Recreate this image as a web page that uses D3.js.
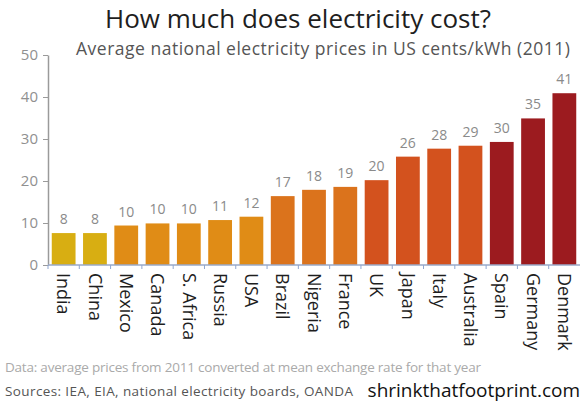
<!DOCTYPE html>
<html>
<head>
<meta charset="utf-8">
<script src="https://cdn.jsdelivr.net/npm/d3@7"></script>
<style>
  body { margin: 0; background: #fff; }
  svg { display: block; font-family: "Open Sans", "DejaVu Sans", sans-serif; }
</style>
</head>
<body>
<svg id="drawing_region"></svg>
<script>
// data
const countries = ['India', 'China', 'Mexico', 'Canada', 'S. Africa', 'Russia', 'USA', 'Brazil',
    'Nigeria', 'France', 'UK', 'Japan', 'Italy', 'Australia', 'Spain', 'Germany', 'Denmark'];
const prices = [7.6, 7.6, 9.4, 9.9, 9.9, 10.7, 11.5, 16.4, 17.9, 18.6, 20.2, 25.8, 27.7, 28.4, 29.3, 34.9, 40.9];
const labels = ['8', '8', '10', '10', '10', '11', '12', '17', '18', '19', '20', '26', '28', '29', '30', '35', '41'];
const groups = [0, 0, 1, 1, 1, 1, 1, 2, 2, 2, 3, 3, 3, 3, 4, 4, 4];
const yticks = [0, 10, 20, 30, 40, 50];

const palette = ['#d8ae12', '#e08c16', '#db731c', '#d3521e', '#9c1b1f'];

const width = 583, height = 404;
const margin = {top: 55, right: 3, bottom: 139, left: 48};

const svg = d3.select('#drawing_region')
    .attr('width', width)
    .attr('height', height);

const data = countries.map((c, i) => ({label: c, value: prices[i], text: labels[i], group: groups[i]}));

const xscale = d3.scaleBand()
    .domain(countries)
    .range([margin.left, width - margin.right])
    .paddingInner(0.24)
    .paddingOuter(0.12);

const yscale = d3.scaleLinear()
    .domain([0, 50])
    .range([height - margin.bottom, margin.top]);

// titles
svg.append('text')
    .attr('x', 298).attr('y', 28)
    .attr('text-anchor', 'middle')
    .attr('font-size', 26)
    .attr('fill', '#1e1e1e')
    .text('How much does electricity cost?');

svg.append('text')
    .attr('x', 323).attr('y', 55)
    .attr('text-anchor', 'middle')
    .attr('font-size', 17.5)
    .attr('textLength', 494)
    .attr('fill', '#555')
    .text('Average national electricity prices in US cents/kWh (2011)');

// bars
svg.append('g').selectAll('rect').data(data)
    .join('rect')
    .attr('x', d => xscale(d.label))
    .attr('y', d => yscale(d.value))
    .attr('width', xscale.bandwidth())
    .attr('height', d => yscale(0) - yscale(d.value))
    .attr('fill', d => palette[d.group]);

// value labels
svg.append('g').selectAll('text').data(data)
    .join('text')
    .attr('x', d => xscale(d.label) + xscale.bandwidth() / 2)
    .attr('y', d => yscale(d.value) - 9)
    .attr('text-anchor', 'middle')
    .attr('font-size', 14)
    .attr('fill', '#8a8a8a')
    .text(d => d.text);

// y axis
const yaxis = d3.axisLeft(yscale).tickValues(yticks).tickSize(5).tickSizeOuter(0);
const ygroup = svg.append('g')
    .attr('transform', `translate(${margin.left}, 0)`)
    .call(yaxis);
ygroup.select('.domain').attr('stroke', '#9a9a9a').attr('stroke-width', 1.5);
ygroup.selectAll('.tick line').attr('stroke', '#9a9a9a');
ygroup.selectAll('.tick text')
    .attr('font-size', 15)
    .attr('font-family', '"Open Sans", sans-serif')
    .attr('fill', '#909090')
    .attr('x', -10);

// x axis: ticks between the bars
const xaxis_group = svg.append('g')
    .attr('transform', `translate(0, ${yscale(0)})`);
xaxis_group.append('line')
    .attr('x1', margin.left).attr('x2', width - margin.right)
    .attr('stroke', '#9aaac8').attr('stroke-width', 1.5);
const step = xscale.step();
xaxis_group.selectAll('line.sep').data(countries)
    .join('line')
    .attr('class', 'sep')
    .attr('x1', d => xscale(d) - (step - xscale.bandwidth()) / 2)
    .attr('x2', d => xscale(d) - (step - xscale.bandwidth()) / 2)
    .attr('y1', 0).attr('y2', 4)
    .attr('stroke', '#8fa6d0');

// country labels, rotated
xaxis_group.selectAll('text').data(countries)
    .join('text')
    .attr('transform', d => `translate(${xscale(d) + xscale.bandwidth() / 2}, 8) rotate(90)`)
    .attr('dy', '0.35em')
    .attr('font-size', 18)
    .attr('fill', '#1e1e1e')
    .text(d => d);

// footer
svg.append('text')
    .attr('x', 5).attr('y', 372)
    .attr('font-size', 13.5)
    .attr('textLength', 476)
    .attr('fill', '#aaa')
    .text('Data:  average prices from 2011 converted at mean exchange rate for that year');

svg.append('text')
    .attr('x', 5).attr('y', 396)
    .attr('font-size', 13.5)
    .attr('textLength', 348)
    .attr('fill', '#555')
    .text('Sources:  IEA, EIA, national electricity boards, OANDA');

svg.append('text')
    .attr('x', 580).attr('y', 397)
    .attr('text-anchor', 'end')
    .attr('font-size', 19)
    .attr('fill', '#111')
    .text('shrinkthatfootprint.com');
</script>
</body>
</html>
